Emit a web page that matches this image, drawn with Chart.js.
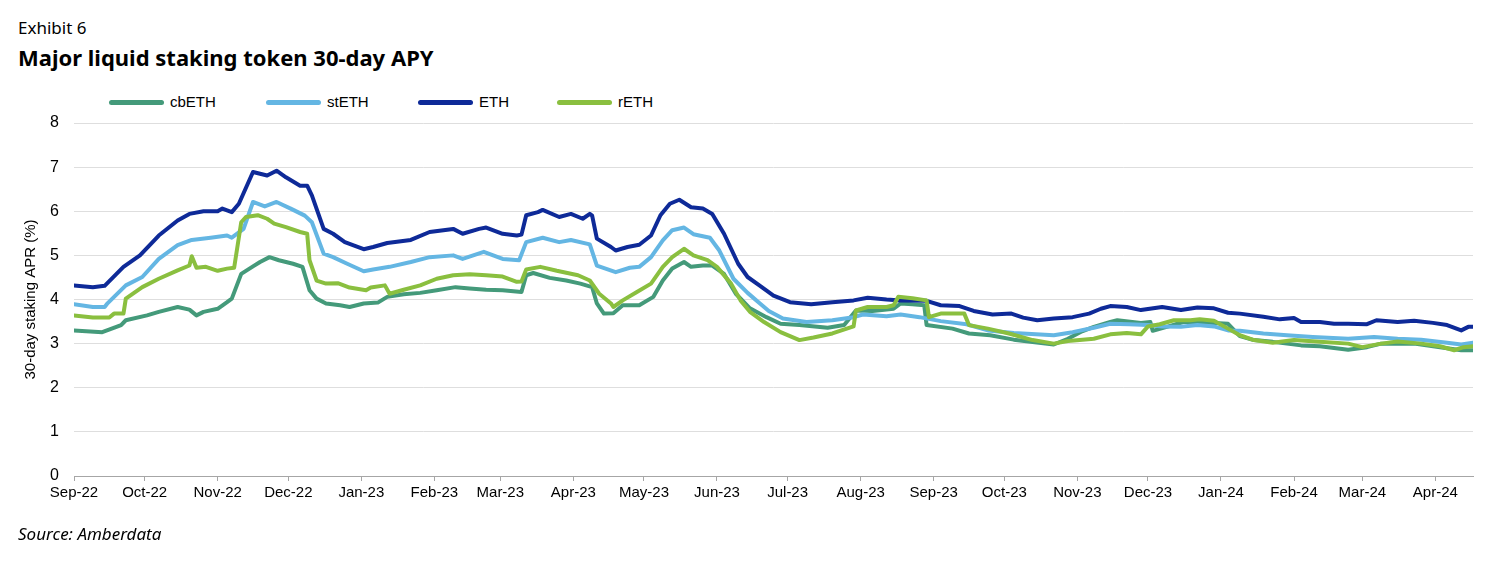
<!DOCTYPE html>
<html>
<head>
<meta charset="utf-8">
<script src="https://cdn.jsdelivr.net/npm/chart.js"></script>
<style>
  body { margin: 0; background: #fff; }
  #wrap { position: relative; width: 1510px; height: 568px; overflow: hidden; }
  #grafica { position: absolute; left: 0; top: 0; }
  .texto { position: absolute; left: 18px; color: #000; font-family: "Noto Sans", "Open Sans", sans-serif; white-space: nowrap; }
  #exhibit { top: 16px; font-size: 17px; }
  #titulo { top: 42px; font-size: 22px; font-weight: 700; }
  #fuente { top: 522px; font-size: 17px; font-style: italic; }
  #leyenda { position: absolute; top: 92px; left: 0; height: 20px; font-family: "Liberation Sans", Arial, sans-serif; font-size: 15px; }
  .item { position: absolute; top: 0; height: 20px; }
  .muestra { position: absolute; top: 8px; left: 0; width: 55px; height: 5px; border-radius: 3px; }
  .nombre { position: absolute; top: 1px; left: 61px; }
</style>
</head>
<body>
<div id="wrap">
  <div class="texto" id="exhibit">Exhibit 6</div>
  <div class="texto" id="titulo">Major liquid staking token 30-day APY</div>
  <div id="leyenda"></div>
  <canvas id="grafica" width="1510" height="568"></canvas>
  <div class="texto" id="fuente">Source: Amberdata</div>
</div>
<script>
// Etiquetas del eje X (inicio de cada mes)
const monthLabels = ['Sep-22', 'Oct-22', 'Nov-22', 'Dec-22', 'Jan-23', 'Feb-23', 'Mar-23', 'Apr-23', 'May-23', 'Jun-23',
  'Jul-23', 'Aug-23', 'Sep-23', 'Oct-23', 'Nov-23', 'Dec-23', 'Jan-24', 'Feb-24', 'Mar-24', 'Apr-24'];

// Último día mostrado (días desde el 1 de septiembre de 2022)
const lastDay = 594;

const yTicks = [0, 1, 2, 3, 4, 5, 6, 7, 8];

const seriesNames = ['cbETH', 'stETH', 'ETH', 'rETH'];

// Datos: [días desde 1-sep-2022, APR %]
const cbETH = [[0,3.3],[12,3.26],[20,3.42],[22,3.53],[31,3.64],[36,3.72],[44,3.83],[49,3.77],[52,3.64],[55,3.72],[61,3.79],[65,3.94],[67,4.02],[71,4.58],[76,4.75],[79,4.85],[83,4.96],[87,4.89],[93,4.81],[97,4.74],[100,4.21],[103,4.02],[107,3.91],[113,3.87],[117,3.83],[123,3.91],[129,3.93],[133,4.06],[140,4.12],[147,4.15],[154,4.21],[162,4.28],[168,4.25],[175,4.22],[182,4.21],[190,4.17],[192,4.55],[195,4.6],[202,4.49],[209,4.43],[215,4.36],[220,4.28],[222,3.91],[225,3.68],[229,3.69],[233,3.87],[240,3.87],[246,4.06],[250,4.43],[254,4.7],[259,4.85],[262,4.74],[267,4.77],[271,4.77],[276,4.58],[281,4.13],[287,3.8],[294,3.6],[300,3.45],[308,3.42],[320,3.36],[327,3.42],[332,3.75],[339,3.74],[348,3.79],[351,3.91],[356,3.89],[361,3.87],[362,3.42],[373,3.34],[380,3.23],[389,3.19],[399,3.09],[416,2.98],[422,3.11],[428,3.28],[433,3.38],[440,3.49],[443,3.53],[453,3.47],[457,3.49],[458,3.29],[464,3.38],[471,3.49],[477,3.49],[490,3.45],[495,3.17],[501,3.08],[509,3.04],[521,2.96],[529,2.94],[541,2.86],[549,2.92],[555,3.0],[569,3.0],[580,2.92],[589,2.85],[594,2.85]];

const stETH = [[0,3.89],[8,3.83],[13,3.83],[14,3.9],[22,4.32],[29,4.51],[36,4.92],[44,5.23],[50,5.35],[58,5.4],[65,5.45],[67,5.4],[72,5.6],[76,6.21],[81,6.11],[86,6.21],[92,6.06],[98,5.9],[101,5.75],[106,5.04],[110,4.96],[116,4.81],[123,4.64],[127,4.68],[134,4.74],[143,4.85],[151,4.96],[161,5.0],[165,4.92],[174,5.08],[182,4.92],[189,4.89],[192,5.3],[199,5.4],[206,5.3],[211,5.35],[219,5.25],[222,4.77],[230,4.62],[236,4.72],[240,4.74],[245,4.96],[250,5.34],[254,5.57],[259,5.63],[263,5.48],[270,5.4],[274,5.11],[280,4.47],[286,4.15],[291,3.92],[295,3.74],[301,3.57],[311,3.49],[322,3.53],[331,3.6],[335,3.66],[345,3.62],[351,3.66],[359,3.6],[368,3.51],[379,3.44],[388,3.3],[399,3.24],[416,3.19],[424,3.26],[433,3.36],[440,3.45],[448,3.44],[456,3.42],[462,3.39],[470,3.38],[477,3.42],[484,3.39],[490,3.3],[495,3.29],[505,3.23],[515,3.19],[526,3.15],[541,3.11],[552,3.15],[562,3.11],[572,3.09],[583,3.02],[589,2.98],[594,3.02]];

const ETH = [[0,4.32],[8,4.28],[13,4.31],[21,4.74],[28,5.0],[36,5.45],[44,5.79],[49,5.94],[55,6.0],[61,6.0],[63,6.06],[67,5.98],[70,6.17],[76,6.89],[79,6.85],[82,6.81],[86,6.92],[90,6.77],[96,6.58],[99,6.58],[101,6.36],[106,5.6],[110,5.49],[115,5.3],[123,5.14],[127,5.19],[133,5.28],[143,5.35],[151,5.53],[161,5.6],[165,5.49],[172,5.6],[175,5.63],[182,5.49],[188,5.45],[190,5.47],[192,5.91],[197,5.98],[199,6.03],[206,5.87],[211,5.94],[216,5.83],[219,5.94],[220,5.9],[222,5.38],[228,5.19],[230,5.11],[235,5.19],[240,5.24],[245,5.45],[249,5.91],[253,6.17],[257,6.26],[262,6.09],[267,6.06],[271,5.94],[276,5.49],[282,4.81],[286,4.51],[291,4.32],[297,4.09],[304,3.94],[313,3.89],[322,3.94],[331,3.98],[337,4.04],[345,4.0],[351,3.98],[362,3.97],[368,3.87],[376,3.85],[382,3.74],[390,3.66],[398,3.68],[403,3.59],[409,3.53],[416,3.57],[424,3.6],[431,3.68],[436,3.79],[440,3.85],[447,3.83],[453,3.76],[462,3.83],[470,3.76],[477,3.82],[484,3.8],[490,3.7],[495,3.68],[505,3.61],[512,3.55],[518,3.58],[521,3.49],[529,3.49],[535,3.45],[541,3.45],[549,3.44],[553,3.53],[562,3.49],[569,3.52],[577,3.47],[583,3.42],[589,3.3],[592,3.38],[594,3.38]];

const rETH = [[0,3.64],[8,3.59],[15,3.59],[17,3.68],[21,3.68],[22,4.02],[29,4.28],[36,4.47],[44,4.66],[49,4.77],[50,4.98],[52,4.72],[56,4.74],[61,4.65],[65,4.7],[68,4.72],[71,5.75],[73,5.87],[78,5.91],[82,5.83],[85,5.72],[90,5.64],[96,5.53],[99,5.49],[100,4.89],[103,4.43],[107,4.36],[112,4.37],[117,4.27],[124,4.21],[126,4.27],[132,4.32],[134,4.13],[140,4.22],[147,4.32],[154,4.47],[161,4.55],[168,4.57],[175,4.55],[182,4.52],[188,4.4],[190,4.41],[192,4.68],[198,4.74],[205,4.65],[214,4.55],[219,4.43],[223,4.13],[228,3.91],[229,3.83],[233,3.98],[239,4.17],[245,4.36],[250,4.74],[254,4.96],[259,5.15],[263,5.0],[269,4.89],[273,4.74],[279,4.36],[283,3.98],[287,3.72],[293,3.49],[300,3.26],[308,3.08],[314,3.14],[322,3.23],[331,3.39],[332,3.75],[337,3.83],[345,3.83],[348,3.87],[350,4.06],[356,4.03],[362,3.98],[363,3.6],[368,3.68],[378,3.68],[380,3.42],[388,3.34],[397,3.23],[407,3.08],[416,3.0],[422,3.06],[427,3.08],[433,3.11],[440,3.21],[447,3.24],[453,3.21],[456,3.39],[461,3.44],[467,3.53],[474,3.53],[478,3.55],[484,3.52],[490,3.34],[495,3.19],[501,3.08],[509,3.02],[518,3.08],[529,3.04],[541,3.0],[547,2.92],[555,3.0],[562,3.05],[572,3.0],[580,2.94],[586,2.85],[590,2.92],[594,2.94]];

const seriesData = [cbETH, stETH, ETH, rETH];

// Estilos
const colores = ['#449a7a', '#64b6e3', '#0e2a98', '#8abf3f'];
const ordenDibujo = [4, 3, 2, 1]; // rETH encima, como en el original
const fuenteEje = "'Liberation Sans', Arial, sans-serif";
const posLeyenda = [109, 266, 418, 557];

// Posición de cada inicio de mes en días
const inicio = Date.UTC(2022, 8, 1);
const monthDays = monthLabels.map((m, i) => Math.round((Date.UTC(2022, 8 + i, 1) - inicio) / 86400000));

// Leyenda en HTML
const leyenda = document.getElementById('leyenda');
seriesNames.forEach((nombre, i) => {
  const item = document.createElement('div');
  item.className = 'item';
  item.style.left = posLeyenda[i] + 'px';
  item.innerHTML = `<div class="muestra" style="background:${colores[i]}"></div><span class="nombre">${nombre}</span>`;
  leyenda.appendChild(item);
});

const ctx = document.getElementById('grafica').getContext('2d');
new Chart(ctx, {
  type: 'line',
  data: {
    datasets: seriesNames.map((nombre, i) => ({
      label: nombre,
      data: seriesData[i].map(p => ({ x: p[0], y: p[1] })),
      borderColor: colores[i],
      backgroundColor: colores[i],
      borderWidth: 4,
      pointRadius: 0,
      tension: 0,
      borderJoinStyle: 'round',
      borderCapStyle: 'round',
      order: ordenDibujo[i]
    }))
  },
  options: {
    responsive: false,
    animation: false,
    layout: { padding: { left: 0, right: 37, top: 123, bottom: 52 } },
    plugins: {
      legend: { display: false },
      tooltip: { enabled: false }
    },
    scales: {
      x: {
        type: 'linear',
        min: 0,
        max: lastDay,
        afterBuildTicks: (scale) => { scale.ticks = monthDays.map(v => ({ value: v })); },
        afterFit: (scale) => { scale.height = 40; },
        ticks: {
          autoSkip: false,
          maxRotation: 0,
          padding: 3,
          color: '#000',
          font: { family: fuenteEje, size: 15 },
          callback: (valor, indice) => monthLabels[indice]
        },
        grid: { drawOnChartArea: false, drawTicks: true, tickLength: 5, color: '#a6a6a6' },
        border: { color: '#a6a6a6', width: 1 }
      },
      y: {
        min: yTicks[0],
        max: yTicks[yTicks.length - 1],
        afterFit: (scale) => { scale.width = 74; },
        ticks: {
          stepSize: 1,
          padding: 15,
          color: '#000',
          font: { family: fuenteEje, size: 16 }
        },
        grid: { color: '#dedede', drawTicks: false },
        border: { display: false },
        title: {
          display: true,
          text: '30-day staking APR (%)',
          color: '#000',
          font: { family: fuenteEje, size: 15 },
          padding: { top: 22, bottom: 0 }
        }
      }
    }
  }
});
</script>
</body>
</html>
